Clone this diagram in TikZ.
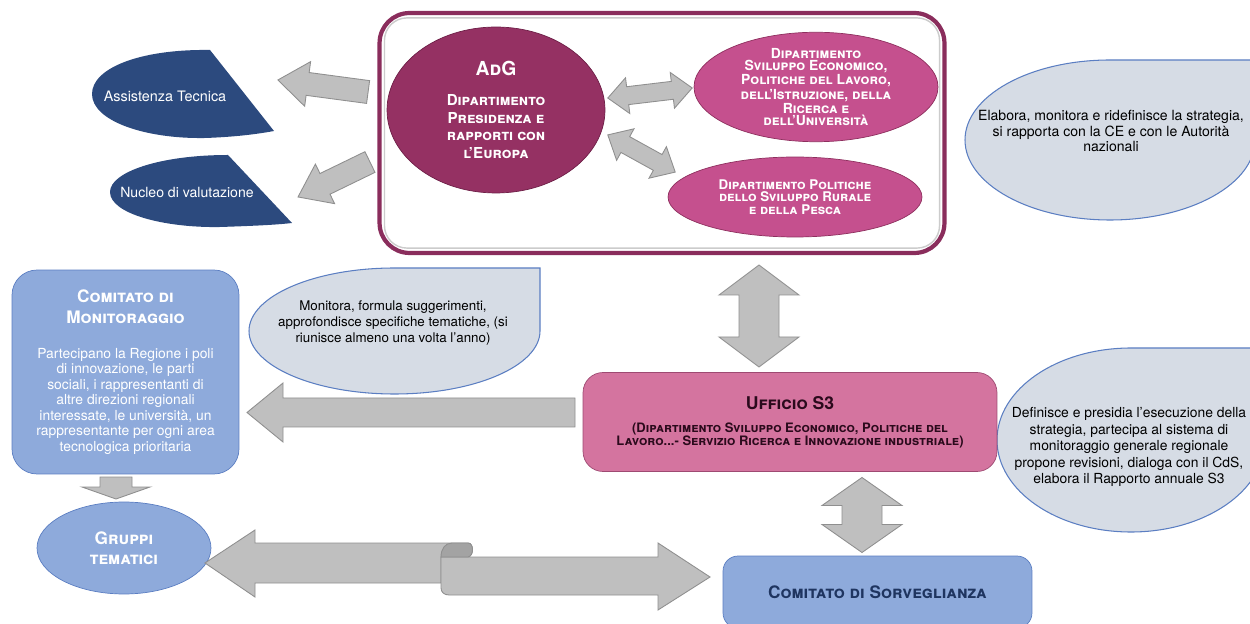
\documentclass[tikz,border=0pt]{standalone}
\usepackage{fontspec}
\setmainfont{TeX Gyre Heros}
\usepackage{xcolor}
\usepackage{tikz}
\usetikzlibrary{shapes}
\usetikzlibrary{calc}
\definecolor{adgred}{HTML}{953163}
\definecolor{adgdark}{HTML}{6E1F47}
\definecolor{dipink}{HTML}{C5508E}
\definecolor{pinkdark}{HTML}{8E2F5E}
\definecolor{uffpink}{HTML}{D4749F}
\definecolor{uffdark}{HTML}{9E4A72}
\definecolor{ufftext}{HTML}{2B0A1C}
\definecolor{comblue}{HTML}{8EAADB}
\definecolor{blueline}{HTML}{5B7EC2}
\definecolor{navy}{HTML}{2C4A7E}
\definecolor{dropfill}{HTML}{D6DCE5}
\definecolor{arrfill}{HTML}{BFBFBF}
\definecolor{arrline}{HTML}{8F8F8F}
\definecolor{arrdark}{HTML}{A3A3A3}
\definecolor{framec}{HTML}{8A2D5C}
\definecolor{darktxt}{HTML}{1F3560}
\tikzset{
	frame/.style={rectangle,draw=framec,line width=2.4pt,fill=white,rounded corners=0.6cm},
	pinkell/.style={ellipse,draw=pinkdark,fill=dipink,text=white,inner sep=0pt,align=center,
		font=\bfseries\scshape\fontsize{7.9}{6.9}\selectfont},
	bluebox/.style={rectangle,draw=blueline,fill=comblue,align=center},
	dropst/.style={draw=blueline,fill=dropfill,line width=0.6pt},
	blk/.style={draw=arrline,fill=arrfill,line width=0.5pt},
	pics/onearr/.style args={#1/#2/#3/#4}{code={
		\draw[blk] ({-#1/2},#2) -- ({#1/2-#4},#2) -- ({#1/2-#4},#3) -- ({#1/2},0)
			-- ({#1/2-#4},-#3) -- ({#1/2-#4},-#2) -- ({-#1/2},-#2) -- cycle;}},
	pics/twoarr/.style args={#1/#2/#3/#4}{code={
		\draw[blk] ({-#1/2},0) -- ({-#1/2+#4},#3) -- ({-#1/2+#4},#2) -- ({#1/2-#4},#2)
			-- ({#1/2-#4},#3) -- ({#1/2},0) -- ({#1/2-#4},-#3) -- ({#1/2-#4},-#2)
			-- ({-#1/2+#4},-#2) -- ({-#1/2+#4},-#3) -- cycle;}}
}
\newcommand\tdrop[4]{\draw[dropst] (#1+#3,#2) -- (#1+#3,#2-#4) -- (#1,#2-#4)
	arc[start angle=270,end angle=0,x radius=#3,y radius=#4] -- cycle;}
\newcommand\ttl[1]{{\bfseries\scshape\fontsize{9.8}{12}\selectfont #1}}

\begin{document}
\begin{tikzpicture}[x=0.02cm,y=-0.02cm]
	\useasboundingbox (0,0) rectangle (1250,624);
	\clip (0,0) rectangle (1250,624);

	\node[frame,minimum width=11.3cm,minimum height=4.8cm] (box) at (662,133) {};
	\draw[gray!40,line width=0.8pt,rounded corners=0.45cm] ($(box.south west)+(7,-7)$) rectangle ($(box.north east)+(-7,7)$);

	\node[ellipse,draw=adgdark,fill=adgred,text=white,inner sep=0pt,minimum width=4.36cm,minimum height=3.32cm,
		align=center,font=\bfseries\scshape\fontsize{8.6}{10}\selectfont] (adg) at (496,110)
		{{\fontsize{11}{13}\selectfont AdG}\\[7pt] Dipartimento\\ Presidenza e\\ rapporti con\\ l'Europa};
	\node[pinkell,minimum width=4.88cm,minimum height=2.16cm] (svil) at (816,87)
		{Dipartimento\\ Sviluppo Economico,\\ Politiche del Lavoro,\\ dell'Istruzione, della\\ Ricerca e\\ dell'Università};
	\node[pinkell,minimum width=5.08cm,minimum height=1.6cm,font=\bfseries\scshape\fontsize{7.6}{7.1}\selectfont] (rur) at (795,197)
		{Dipartimento Politiche\\ dello Sviluppo Rurale\\ e della Pesca};

	\fill[navy] (210,50) .. controls (140,49) and (92,68) .. (92,94) .. controls (92,121) and (145,139) .. (205,138)
		.. controls (235,137) and (258,134) .. (274,131) -- cycle;
	\node[text=white,font=\fontsize{8.2}{10}\selectfont] (ass) at (165,96) {Assistenza Tecnica};
	\fill[navy] (228,155) .. controls (160,155) and (110,172) .. (110,192) .. controls (110,214) and (165,228) .. (220,227)
		.. controls (250,226) and (275,225) .. (292,223) -- cycle;
	\node[text=white,font=\fontsize{8}{10}\selectfont] (nuc) at (187,192) {Nucleo di valutazione};

	\tdrop{1110}{140}{145}{80}
	\node[align=center,font=\fontsize{8}{6.6}\selectfont] (elab) at (1111,131)
		{Elabora, monitora e ridefinisce la strategia,\\ si rapporta con la CE e con le Autorità\\ nazionali};
	\tdrop{394.5}{331}{145.5}{63}
	\node[align=center,font=\fontsize{7.6}{9.1}\selectfont] (montxt) at (393,323)
		{Monitora, formula suggerimenti,\\ approfondisce specifiche tematiche, (si\\ riunisce almeno una volta l'anno)};
	\tdrop{1131}{440}{134}{92}
	\node[align=center,font=\fontsize{7.9}{9.4}\selectfont] (def) at (1129,447)
		{Definisce e presidia l'esecuzione della\\ strategia, partecipa al sistema di\\ monitoraggio generale regionale\\
		propone revisioni, dialoga con il CdS,\\ elabora il Rapporto annuale S3};

	\node[rectangle,rounded corners=0.4cm,draw=uffdark,fill=uffpink,minimum width=8.28cm,minimum height=1.98cm,
		align=center,text=ufftext,font=\bfseries\scshape\fontsize{7.4}{7.4}\selectfont] (uff) at (790,422)
		{{\fontsize{10}{11}\selectfont Ufficio S3}\\[5.5pt] (Dipartimento Sviluppo Economico, Politiche del\\
		Lavoro...- Servizio Ricerca e Innovazione industriale)};
	\node[bluebox,rounded corners=0.5cm,minimum width=4.54cm,minimum height=4.08cm,text=white,
		font=\fontsize{7.9}{8.8}\selectfont] (mon) at (125.5,372)
		{\ttl{Comitato di}\\[3pt] \ttl{Monitoraggio}\\[11pt] Partecipano la Regione i poli\\ di innovazione, le parti\\
		sociali, i rappresentanti di\\ altre direzioni regionali\\ interessate, le università, un\\
		rappresentante per ogni area\\ tecnologica prioritaria};
	\node[ellipse,draw=blueline,fill=comblue,minimum width=3.48cm,minimum height=1.84cm,inner sep=0pt,text=white,
		align=center,font=\bfseries\scshape\fontsize{9.8}{11.4}\selectfont] (grp) at (124,548) {Gruppi\\ tematici};
	\node[bluebox,rounded corners=0.3cm,minimum width=6.18cm,minimum height=1.44cm,text=darktxt,
		font=\bfseries\scshape\fontsize{9.8}{11}\selectfont] (sorv) at (877.5,592) {Comitato di Sorveglianza};

	\pic[rotate=172.4] at (323,86) {onearr=91/11.5/22.5/30};
	\pic[rotate=205.9] at (334,179.5) {onearr=80/11.5/22/30};
	\pic[rotate=6.8] at (650,93) {twoarr=85/9/18/20};
	\pic[rotate=-28.9] at (641.5,153.5) {twoarr=77/9/18/20};
	\pic[rotate=90] at (759,316) {twoarr=102/20/40/30};
	\pic[rotate=90] at (862,515) {twoarr=75/20/40/28};
	\pic[rotate=180] at (411,412.5) {onearr=328/14.5/29.5/36};
	\pic[rotate=-90] at (116,488) {onearr=22/16/34/12};

	\draw[blk] (205,563) -- (255,530) -- (255,543) -- (468,543) .. controls (474,543) and (474,556) .. (468,557)
		-- (441,557) -- (441,583) -- (255,583) -- (255,597) -- cycle;
	\draw[blk] (441,557) -- (658,557) -- (658,543) -- (710,577) -- (658,610) -- (658,595) -- (449,595)
		.. controls (444,595) and (441,592) .. (441,588) -- cycle;
	\draw[blk,fill=arrdark] (441,557) .. controls (441,549) and (445,543) .. (452,543) -- (468,543)
		.. controls (474,543) and (474,556) .. (468,557) -- cycle;
\end{tikzpicture}
\end{document}
